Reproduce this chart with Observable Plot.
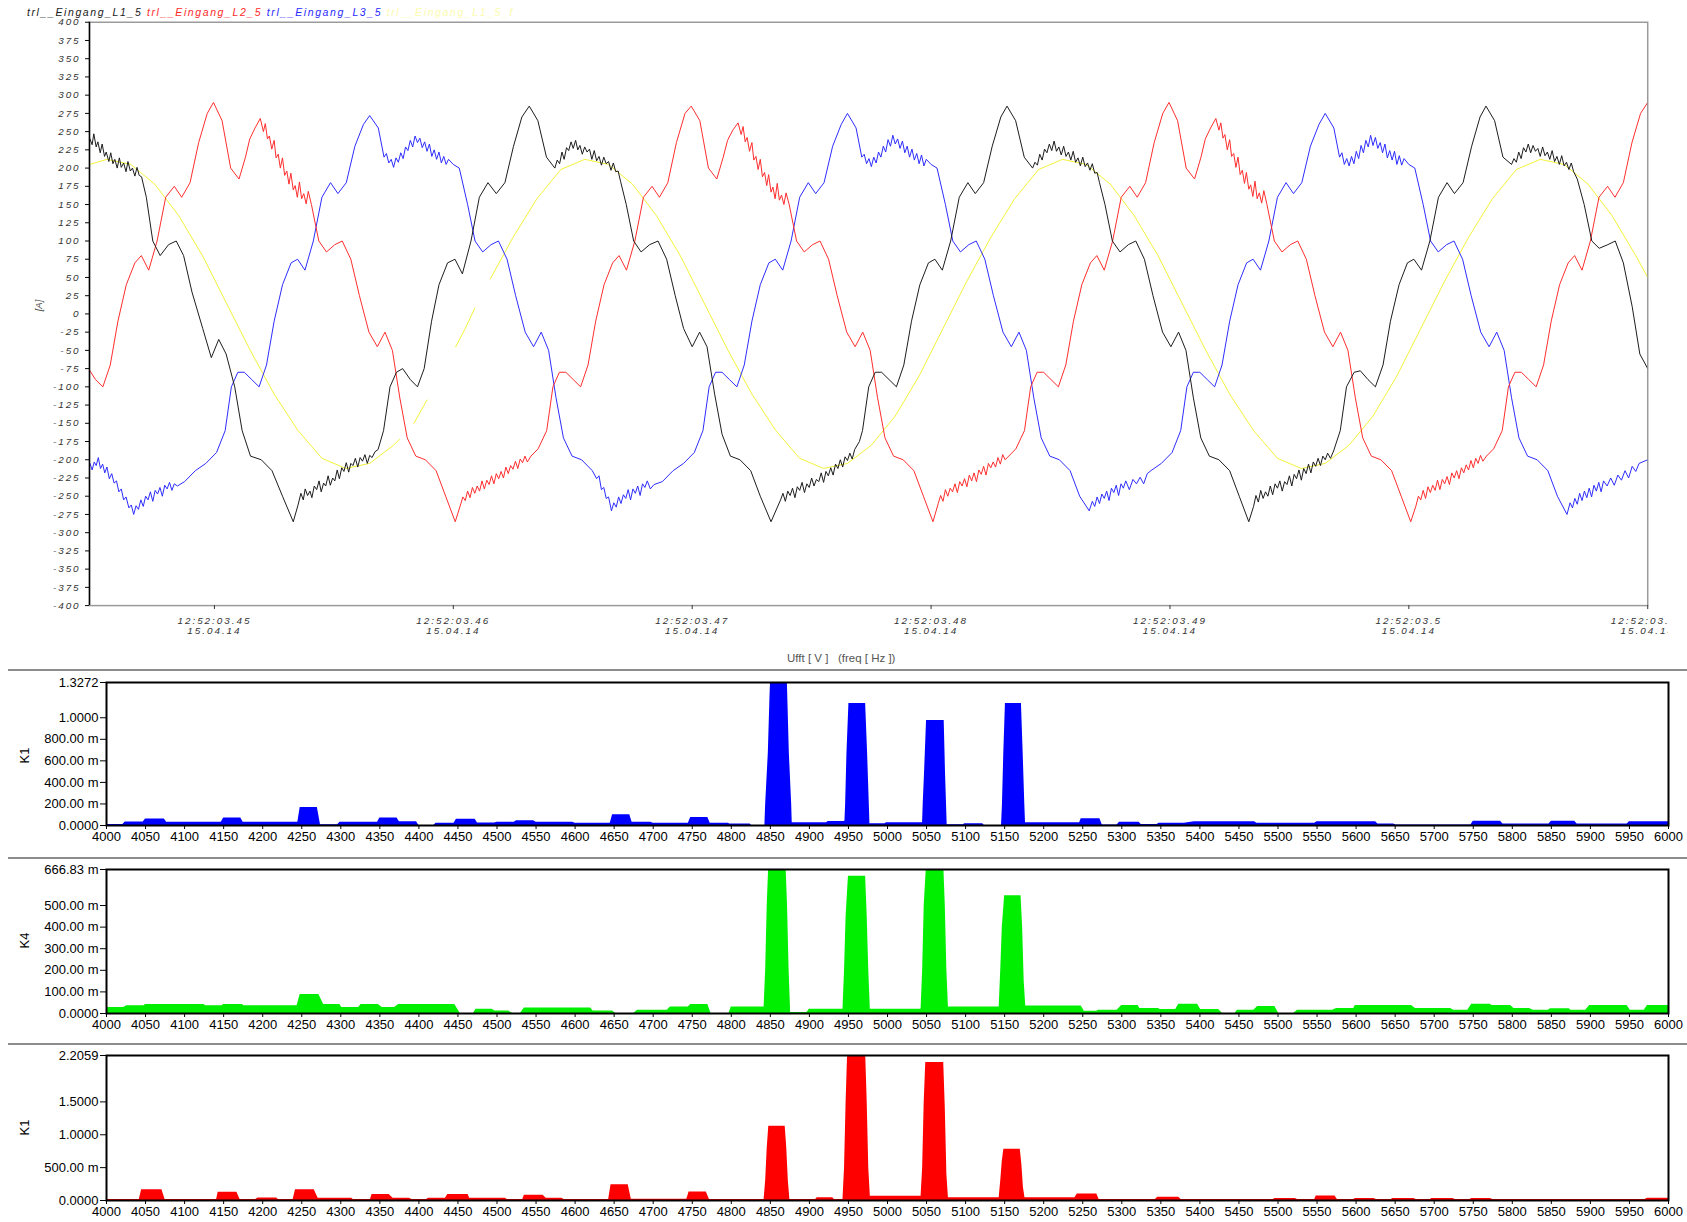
<!DOCTYPE html>
<html><head><meta charset="utf-8">
<script src="https://cdn.jsdelivr.net/npm/d3@7"></script>
<script src="https://cdn.jsdelivr.net/npm/@observablehq/plot@0.6"></script>
<style>
body{margin:0;background:#fff;width:1687px;height:1222px;overflow:hidden;position:relative;font-family:"Liberation Sans",Arial,sans-serif}
.abs{position:absolute}
.sep{position:absolute;left:8px;right:0;height:0;border-top:2px solid #8c8c8c}
.ylab{position:absolute;font:13px "Liberation Sans";transform:rotate(-90deg);transform-origin:center;width:30px;text-align:center}
</style></head><body>
<div id="legend" class="abs" style="left:27px;top:6px;font:italic 10.5px 'Liberation Sans';letter-spacing:1.6px;white-space:pre"></div>
<div id="top" class="abs" style="left:0;top:0;width:1668px;height:650px;overflow:hidden"></div>
<div class="abs" style="left:33px;top:300px;font:italic 9.5px 'Liberation Sans';color:#444;transform:rotate(-90deg)">[A]</div>
<div class="abs" style="left:787px;top:652px;font:11.5px 'Liberation Sans';color:#555;white-space:pre">Ufft [ V ]   (freq [ Hz ])</div>
<div class="sep" style="top:669px"></div>
<div class="sep" style="top:857px"></div>
<div class="sep" style="top:1043px"></div>
<div id="p1" class="abs" style="left:0;top:670px"></div>
<div id="p2" class="abs" style="left:0;top:858px"></div>
<div id="p3" class="abs" style="left:0;top:1044px"></div>
<div class="ylab" style="left:9px;top:748px">K1</div>
<div class="ylab" style="left:9px;top:933px">K4</div>
<div class="ylab" style="left:9px;top:1120px">K1</div>
<script>
// ---------- waveform data: time in ms after 12:52:03.44, current in A ----------
const seriesNames = ["trl__Eingang_L1_5", "trl__Eingang_L2_5", "trl__Eingang_L3_5", "trl__Eingang_L1_5_f"];
const seriesColors = ["#1a1a1a", "#ff2a2a", "#2a2aff", "#f0f020"];
const timeTicks = [10, 20, 30, 40, 50, 60, 70];
const dateLabel = "15.04.14";
const yTicksTop = [400,375,350,325,300,275,250,225,200,175,150,125,100,75,50,25,0,-25,-50,-75,-100,-125,-150,-175,-200,-225,-250,-275,-300,-325,-350,-375,-400];

const L1 = [[4.79,240],[4.88,232],[4.95,247],[5.05,229],[5.12,236],[5.22,221],[5.3,233],[5.4,216],[5.47,222],[5.58,209],[5.66,221],[5.75,206],[5.83,212],[5.93,200],[6.02,214],[6.1,201],[6.2,207],[6.3,195],[6.38,209],[6.48,196],[6.57,200],[6.67,189],[6.76,201],[6.85,190],[6.95,188],[7.15,160],[7.42,100],[7.73,80],[8.08,95],[8.4,100],[8.71,80],[9.06,30],[9.51,-20],[9.87,-60],[10.18,-35],[10.49,-55],[10.85,-100],[11.16,-160],[11.51,-195],[11.96,-200],[12.41,-215],[12.85,-250],[13.3,-285],[13.5,-262],[13.62,-246],[13.72,-255],[13.8,-240],[13.9,-249],[14.0,-243],[14.08,-252],[14.18,-236],[14.28,-241],[14.38,-229],[14.47,-244],[14.57,-232],[14.66,-236],[14.76,-222],[14.85,-235],[14.95,-225],[15.04,-229],[15.14,-214],[15.23,-226],[15.33,-211],[15.42,-216],[15.52,-204],[15.62,-217],[15.71,-205],[15.8,-208],[15.9,-198],[16.0,-210],[16.1,-197],[16.2,-202],[16.3,-193],[16.4,-205],[16.5,-194],[16.6,-197],[16.72,-189],[16.85,-186],[17.08,-160],[17.35,-100],[17.62,-80],[17.88,-75],[18.2,-90],[18.5,-100],[18.78,-75],[19.09,-10],[19.4,40],[19.76,70],[20.07,75],[20.38,55],[20.74,100],[21.09,160],[21.45,180],[21.8,165],[22.16,180],[22.52,230],[22.87,270],[23.18,285],[23.54,265],[23.9,215],[24.25,200],[24.35,211],[24.45,206],[24.55,222],[24.64,212],[24.74,228],[24.83,224],[24.93,236],[25.02,227],[25.12,238],[25.21,225],[25.3,231],[25.4,219],[25.5,229],[25.6,222],[25.7,226],[25.8,212],[25.9,224],[26.0,210],[26.1,216],[26.2,204],[26.3,215],[26.4,206],[26.5,209],[26.6,197],[26.7,207],[26.8,195],[26.9,196],[27.0,182],[27.24,150],[27.55,100],[27.86,85],[28.22,95],[28.57,100],[28.93,75],[29.29,25],[29.64,-20],[30.0,-45],[30.31,-25],[30.62,-45],[30.94,-110],[31.25,-165],[31.6,-195],[32.0,-200],[32.45,-215],[32.85,-250],[33.3,-285],[33.7,-255],[33.8,-246],[33.9,-257],[34.0,-243],[34.1,-249],[34.2,-239],[34.3,-252],[34.4,-237],[34.5,-242],[34.6,-231],[34.7,-245],[34.8,-233],[34.9,-238],[35.0,-225],[35.1,-236],[35.2,-227],[35.3,-230],[35.4,-218],[35.5,-231],[35.6,-216],[35.7,-222],[35.8,-211],[35.9,-221],[36.0,-206],[36.1,-212],[36.2,-200],[36.3,-210],[36.4,-196],[36.5,-201],[36.6,-191],[36.7,-199],[36.8,-186],[37.0,-175],[37.13,-160],[37.39,-100],[37.66,-80],[37.93,-80],[38.24,-90],[38.55,-100],[38.86,-70],[39.18,-10],[39.53,40],[39.89,70],[40.16,75],[40.47,60],[40.82,100],[41.18,160],[41.54,180],[41.85,165],[42.2,180],[42.56,230],[42.92,270],[43.18,285],[43.54,265],[43.9,215],[44.25,200],[44.35,208],[44.45,204],[44.55,219],[44.65,211],[44.75,226],[44.85,221],[44.95,233],[45.05,224],[45.15,237],[45.25,223],[45.35,229],[45.45,218],[45.55,230],[45.65,216],[45.75,222],[45.85,211],[45.95,223],[46.05,208],[46.15,214],[46.25,203],[46.35,215],[46.45,202],[46.55,207],[46.65,197],[46.75,206],[46.85,193],[46.95,194],[47.05,180],[47.28,150],[47.59,100],[47.91,85],[48.26,95],[48.57,100],[48.93,75],[49.29,25],[49.69,-25],[50.04,-45],[50.36,-25],[50.67,-50],[50.98,-115],[51.29,-170],[51.65,-195],[52.05,-200],[52.5,-215],[52.9,-250],[53.3,-285],[53.5,-264],[53.6,-249],[53.7,-258],[53.8,-242],[53.9,-253],[54.0,-244],[54.1,-250],[54.2,-236],[54.3,-248],[54.4,-233],[54.5,-239],[54.6,-229],[54.7,-243],[54.8,-230],[54.9,-234],[55.0,-222],[55.1,-236],[55.2,-220],[55.3,-226],[55.4,-214],[55.5,-228],[55.6,-212],[55.7,-219],[55.8,-206],[55.9,-218],[56.0,-203],[56.1,-209],[56.2,-198],[56.3,-208],[56.4,-195],[56.5,-200],[56.6,-191],[56.72,-198],[56.85,-188],[57.13,-160],[57.39,-100],[57.71,-80],[57.97,-78],[58.29,-90],[58.6,-100],[58.92,-70],[59.23,-10],[59.59,40],[59.94,70],[60.21,75],[60.53,60],[60.88,100],[61.24,160],[61.6,180],[61.91,165],[62.27,180],[62.63,230],[62.98,270],[63.23,285],[63.59,265],[63.94,215],[64.3,205],[64.4,213],[64.5,208],[64.6,222],[64.7,213],[64.8,228],[64.9,222],[65.0,233],[65.1,221],[65.2,231],[65.3,223],[65.4,227],[65.5,216],[65.6,229],[65.7,217],[65.8,222],[65.9,212],[66.0,224],[66.1,209],[66.2,216],[66.3,205],[66.4,217],[66.5,203],[66.6,208],[66.7,198],[66.8,207],[66.9,195],[67.05,185],[67.34,150],[67.66,100],[67.97,90],[68.33,95],[68.64,100],[68.98,70],[69.35,10],[69.67,-55],[70.0,-75]];

const L2 = [[4.79,-78],[5.02,-90],[5.33,-100],[5.64,-70],[5.96,-10],[6.31,40],[6.67,70],[6.94,80],[7.25,60],[7.6,100],[7.96,160],[8.32,175],[8.63,160],[8.98,180],[9.34,235],[9.7,275],[9.96,290],[10.32,265],[10.68,200],[11.03,185],[11.3,215],[11.48,240],[11.7,255],[11.92,268],[12.05,250],[12.13,261],[12.22,240],[12.3,244],[12.4,226],[12.5,238],[12.58,214],[12.67,219],[12.76,200],[12.85,214],[12.94,190],[13.03,196],[13.12,178],[13.2,193],[13.3,170],[13.38,176],[13.47,160],[13.56,181],[13.65,158],[13.74,165],[13.84,151],[13.93,168],[14.06,150],[14.37,100],[14.69,85],[15.04,95],[15.35,100],[15.71,75],[16.07,25],[16.47,-25],[16.82,-45],[17.14,-25],[17.45,-50],[17.76,-115],[18.07,-170],[18.43,-195],[18.83,-200],[19.28,-215],[19.68,-250],[20.08,-285],[20.3,-262],[20.4,-251],[20.5,-256],[20.6,-243],[20.7,-252],[20.8,-238],[20.9,-246],[21.0,-236],[21.1,-243],[21.2,-229],[21.3,-240],[21.4,-228],[21.5,-234],[21.6,-222],[21.7,-233],[21.8,-219],[21.9,-226],[22.0,-216],[22.1,-225],[22.2,-210],[22.3,-219],[22.4,-208],[22.5,-213],[22.6,-202],[22.7,-212],[22.8,-199],[22.9,-204],[23.0,-195],[23.1,-203],[23.25,-195],[23.55,-185],[23.91,-160],[24.17,-100],[24.44,-80],[24.71,-80],[25.02,-90],[25.33,-100],[25.64,-70],[25.96,-10],[26.31,40],[26.67,70],[26.94,80],[27.25,60],[27.6,100],[27.96,160],[28.32,175],[28.63,160],[28.98,180],[29.34,235],[29.7,275],[29.96,285],[30.32,265],[30.68,200],[31.03,185],[31.3,215],[31.48,238],[31.7,252],[31.92,262],[32.05,246],[32.13,257],[32.22,236],[32.3,242],[32.4,223],[32.5,235],[32.58,211],[32.67,216],[32.76,198],[32.85,212],[32.94,188],[33.03,194],[33.12,176],[33.2,191],[33.3,167],[33.38,174],[33.47,158],[33.56,179],[33.65,156],[33.74,163],[33.84,150],[33.93,166],[34.06,150],[34.37,100],[34.69,85],[35.04,95],[35.35,100],[35.71,75],[36.07,25],[36.47,-25],[36.82,-45],[37.14,-25],[37.45,-50],[37.76,-115],[38.07,-170],[38.43,-195],[38.83,-200],[39.28,-215],[39.68,-250],[40.08,-285],[40.3,-260],[40.4,-249],[40.5,-257],[40.6,-241],[40.7,-250],[40.8,-239],[40.9,-244],[41.0,-233],[41.1,-245],[41.2,-230],[41.3,-236],[41.4,-226],[41.5,-237],[41.6,-221],[41.7,-229],[41.8,-218],[41.9,-230],[42.0,-214],[42.1,-220],[42.2,-209],[42.3,-221],[42.4,-205],[42.5,-211],[42.6,-203],[42.7,-210],[42.8,-197],[42.9,-206],[43.0,-193],[43.1,-200],[43.25,-195],[43.55,-185],[43.91,-160],[44.17,-100],[44.44,-80],[44.71,-80],[45.02,-90],[45.33,-100],[45.64,-70],[45.96,-10],[46.31,40],[46.67,70],[46.94,80],[47.25,60],[47.6,100],[47.96,160],[48.32,175],[48.63,160],[48.98,180],[49.34,235],[49.7,275],[49.96,290],[50.32,265],[50.68,200],[51.03,185],[51.3,215],[51.48,240],[51.7,255],[51.92,268],[52.05,252],[52.13,262],[52.22,241],[52.3,246],[52.4,225],[52.5,239],[52.58,216],[52.67,220],[52.76,201],[52.85,215],[52.94,191],[53.03,197],[53.12,179],[53.2,194],[53.3,171],[53.38,177],[53.47,161],[53.56,182],[53.65,158],[53.74,166],[53.84,152],[53.93,169],[54.06,150],[54.37,100],[54.69,85],[55.04,95],[55.35,100],[55.71,75],[56.07,25],[56.47,-25],[56.82,-45],[57.14,-25],[57.45,-50],[57.76,-115],[58.07,-170],[58.43,-195],[58.83,-200],[59.28,-215],[59.68,-250],[60.08,-285],[60.3,-263],[60.4,-250],[60.5,-255],[60.6,-242],[60.7,-253],[60.8,-237],[60.9,-245],[61.0,-235],[61.1,-242],[61.2,-228],[61.3,-241],[61.4,-227],[61.5,-233],[61.6,-223],[61.7,-234],[61.8,-218],[61.9,-225],[62.0,-215],[62.1,-226],[62.2,-211],[62.3,-218],[62.4,-207],[62.5,-214],[62.6,-201],[62.7,-211],[62.8,-198],[62.9,-205],[63.0,-194],[63.1,-202],[63.25,-195],[63.55,-185],[63.91,-160],[64.17,-100],[64.44,-80],[64.71,-80],[65.02,-90],[65.33,-100],[65.64,-70],[65.96,-10],[66.31,40],[66.67,70],[66.94,80],[67.25,60],[67.6,100],[67.96,160],[68.32,175],[68.63,160],[68.98,180],[69.34,235],[69.7,275],[70.0,290]];

const L3 = [[4.79,-205],[4.88,-214],[4.97,-203],[5.05,-208],[5.14,-197],[5.23,-212],[5.32,-206],[5.41,-218],[5.5,-210],[5.6,-226],[5.7,-219],[5.8,-232],[5.9,-229],[6.0,-244],[6.1,-240],[6.2,-255],[6.3,-251],[6.42,-266],[6.52,-262],[6.62,-275],[6.72,-263],[6.82,-268],[6.92,-255],[7.02,-264],[7.12,-250],[7.22,-255],[7.32,-244],[7.42,-257],[7.52,-242],[7.62,-247],[7.72,-238],[7.82,-250],[7.92,-235],[8.02,-240],[8.12,-231],[8.22,-242],[8.32,-233],[8.45,-236],[8.75,-230],[9.2,-215],[9.64,-205],[10.09,-190],[10.45,-160],[10.71,-100],[10.98,-80],[11.25,-80],[11.56,-90],[11.87,-100],[12.18,-70],[12.5,-10],[12.85,40],[13.21,70],[13.48,75],[13.79,60],[14.14,100],[14.5,160],[14.86,180],[15.17,165],[15.52,180],[15.88,230],[16.24,260],[16.5,272],[16.86,255],[17.1,215],[17.2,220],[17.3,207],[17.4,212],[17.5,201],[17.6,214],[17.7,208],[17.8,221],[17.9,213],[18.0,229],[18.1,224],[18.2,238],[18.3,229],[18.4,244],[18.5,235],[18.6,241],[18.7,228],[18.8,236],[18.9,223],[19.0,233],[19.1,216],[19.2,225],[19.3,212],[19.4,222],[19.5,207],[19.6,216],[19.7,205],[19.8,212],[20.0,205],[20.25,200],[20.6,150],[20.91,100],[21.23,85],[21.58,95],[21.89,100],[22.25,75],[22.61,25],[23.01,-25],[23.36,-45],[23.68,-25],[23.99,-50],[24.3,-115],[24.61,-170],[24.97,-195],[25.37,-200],[25.82,-215],[26.0,-226],[26.1,-222],[26.2,-241],[26.3,-238],[26.4,-253],[26.5,-251],[26.62,-270],[26.72,-259],[26.82,-265],[26.92,-251],[27.02,-260],[27.12,-248],[27.22,-253],[27.32,-241],[27.42,-255],[27.52,-240],[27.62,-246],[27.72,-236],[27.82,-249],[27.92,-233],[28.02,-238],[28.12,-229],[28.25,-240],[28.4,-234],[28.75,-230],[29.2,-215],[29.64,-205],[30.09,-190],[30.45,-160],[30.71,-100],[30.98,-80],[31.25,-80],[31.56,-90],[31.87,-100],[32.18,-70],[32.5,-10],[32.85,40],[33.21,70],[33.48,75],[33.79,60],[34.14,100],[34.5,160],[34.86,180],[35.17,165],[35.52,180],[35.88,230],[36.24,260],[36.5,275],[36.86,255],[37.1,215],[37.2,219],[37.3,206],[37.4,213],[37.5,202],[37.6,215],[37.7,207],[37.8,222],[37.9,215],[38.0,230],[38.1,222],[38.2,239],[38.3,230],[38.4,245],[38.5,233],[38.6,240],[38.7,227],[38.8,237],[38.9,221],[39.0,230],[39.1,215],[39.2,226],[39.3,211],[39.4,220],[39.5,206],[39.6,218],[39.7,203],[39.8,212],[40.0,205],[40.25,200],[40.6,150],[40.91,100],[41.23,85],[41.58,95],[41.89,100],[42.25,75],[42.61,25],[43.01,-25],[43.36,-45],[43.68,-25],[43.99,-50],[44.3,-115],[44.61,-170],[44.97,-195],[45.37,-200],[45.82,-215],[46.22,-250],[46.62,-270],[46.75,-257],[46.85,-264],[46.95,-251],[47.05,-260],[47.15,-247],[47.25,-253],[47.35,-243],[47.45,-256],[47.55,-239],[47.65,-245],[47.75,-235],[47.85,-249],[47.95,-233],[48.05,-239],[48.15,-229],[48.3,-241],[48.45,-227],[48.6,-233],[48.75,-224],[48.9,-233],[49.05,-219],[49.2,-215],[49.64,-205],[50.09,-190],[50.45,-160],[50.71,-100],[50.98,-80],[51.25,-80],[51.56,-90],[51.87,-100],[52.18,-70],[52.5,-10],[52.85,40],[53.21,70],[53.48,75],[53.79,60],[54.14,100],[54.5,160],[54.86,180],[55.17,165],[55.52,180],[55.88,230],[56.24,260],[56.5,275],[56.86,255],[57.1,215],[57.2,221],[57.3,205],[57.4,213],[57.5,203],[57.6,216],[57.7,206],[57.8,223],[57.9,213],[58.0,231],[58.1,221],[58.2,238],[58.3,229],[58.4,245],[58.5,231],[58.6,242],[58.7,227],[58.8,235],[58.9,221],[59.0,233],[59.1,214],[59.2,224],[59.3,211],[59.4,223],[59.5,205],[59.6,217],[59.7,204],[59.8,213],[60.0,205],[60.25,200],[60.6,150],[60.91,100],[61.23,85],[61.58,95],[61.89,100],[62.25,75],[62.61,25],[63.01,-25],[63.36,-45],[63.68,-25],[63.99,-50],[64.3,-115],[64.61,-170],[64.97,-195],[65.37,-200],[65.82,-215],[66.22,-250],[66.62,-275],[66.75,-259],[66.85,-266],[66.95,-253],[67.05,-261],[67.15,-246],[67.25,-256],[67.35,-243],[67.45,-252],[67.55,-239],[67.65,-251],[67.75,-235],[67.85,-243],[67.95,-231],[68.05,-244],[68.15,-229],[68.3,-236],[68.45,-225],[68.6,-235],[68.75,-221],[68.9,-228],[69.05,-215],[69.2,-225],[69.35,-209],[69.5,-216],[69.64,-205],[70.0,-200]];

// fundamental (yellow): null marks a gap in the trace
const L1f = [[4.77,205],[5.5,212],[6.5,205],[7.5,178],[8.5,135],[9.5,80],[10.5,15],[11.5,-50],[12.5,-110],[13.5,-160],[14.5,-198],[15.5,-212],[16.5,-205],[17.5,-180],[17.75,-172],[17.8,null],[18.35,-150],[18.9,-118],[18.95,null],[20.1,-45],[20.5,-20],[20.9,8],[20.95,null],[21.55,48],[22.5,105],[23.5,158],[24.5,198],[25.5,212],[26.5,205],[27.5,178],[28.5,135],[29.5,80],[30.5,15],[31.5,-50],[32.5,-110],[33.5,-160],[34.5,-198],[35.5,-212],[36.5,-205],[37.5,-180],[38.5,-140],[39.5,-85],[40.5,-20],[41.5,45],[42.5,105],[43.5,158],[44.5,198],[45.5,212],[46.5,205],[47.5,178],[48.5,135],[49.5,80],[50.5,15],[51.5,-50],[52.5,-110],[53.5,-160],[54.5,-198],[55.5,-212],[56.5,-205],[57.5,-180],[58.5,-140],[59.5,-85],[60.5,-20],[61.5,45],[62.5,105],[63.5,158],[64.5,198],[65.5,212],[66.5,205],[67.5,178],[68.5,135],[69.5,80],[70,50]];

// ---------- spectrum data: frequency in Hz, amplitude in V ----------
const freqTicks = [4000,4050,4100,4150,4200,4250,4300,4350,4400,4450,4500,4550,4600,4650,4700,4750,4800,4850,4900,4950,5000,5050,5100,5150,5200,5250,5300,5350,5400,5450,5500,5550,5600,5650,5700,5750,5800,5850,5900,5950,6000];
const k1Ticks = [0, 0.2, 0.4, 0.6, 0.8, 1.0, 1.3272];
const k4Ticks = [0, 0.1, 0.2, 0.3, 0.4, 0.5, 0.66683];
const k1bTicks = [0, 0.5, 1.0, 1.5, 2.2059];

const specBlue = [[4000,0.010],[4021,0.010],[4024,0.033],[4047,0.033],[4050,0.060],[4074,0.060],[4077,0.030],[4147,0.030],[4150,0.070],[4172,0.070],[4175,0.030],[4245,0.030],[4248,0.167],[4270,0.167],[4274,0.007],[4296,0.007],[4299,0.030],[4347,0.030],[4350,0.070],[4372,0.070],[4375,0.035],[4397,0.035],[4400,0.0],[4419,0.0],[4422,0.020],[4445,0.020],[4448,0.057],[4472,0.057],[4475,0.023],[4497,0.023],[4500,0.030],[4522,0.030],[4525,0.045],[4547,0.045],[4550,0.030],[4597,0.030],[4600,0.020],[4645,0.020],[4648,0.100],[4670,0.100],[4673,0.030],[4697,0.030],[4700,0.020],[4745,0.020],[4748,0.075],[4770,0.075],[4773,0.022],[4796,0.022],[4798,0.013],[4824,0.013],[4826,0.0],[4843,0.0],[4844,0.197],[4847.4,0.673],[4849.6,1.21],[4850.4,1.356],[4871.7,1.356],[4874.3,0.673],[4877.3,0.197],[4878,0.025],[4922,0.025],[4924,0.038],[4944,0.038],[4945.5,0.04],[4946.4,0.197],[4948.1,0.673],[4950.6,1.133],[4972,1.133],[4974.5,0.673],[4976.7,0.197],[4977.5,0.016],[4996.7,0.016],[4998.8,0.025],[5044.9,0.025],[5045.7,0.197],[5047.4,0.483],[5050,0.975],[5072.6,0.975],[5074.3,0.483],[5076.4,0.006],[5097,0.006],[5099,0.016],[5122,0.016],[5124,0.0],[5146,0.0],[5147.2,0.197],[5148.9,0.673],[5151,1.133],[5171.5,1.133],[5173.7,0.673],[5175.8,0.197],[5176.7,0.025],[5246,0.025],[5248,0.063],[5272,0.063],[5275,0.005],[5294,0.005],[5297,0.030],[5322,0.030],[5325,0.010],[5345,0.010],[5348,0.020],[5380,0.020],[5393,0.035],[5470,0.035],[5473,0.020],[5547,0.020],[5550,0.035],[5625,0.035],[5628,0.015],[5648,0.015],[5651,0.005],[5747,0.005],[5750,0.040],[5785,0.040],[5788,0.015],[5847,0.015],[5850,0.040],[5880,0.040],[5883,0.015],[5947,0.015],[5950,0.035],[6000,0.035]];

const specGreen = [[4000,0.028],[4022,0.028],[4026,0.036],[4048,0.036],[4050,0.042],[4125,0.042],[4127,0.036],[4148,0.036],[4150,0.042],[4174,0.042],[4176,0.036],[4244,0.036],[4248,0.088],[4272,0.088],[4278,0.042],[4299,0.042],[4301,0.028],[4323,0.028],[4326,0.042],[4348,0.042],[4353,0.028],[4369,0.028],[4374,0.042],[4446,0.042],[4453,0.0],[4470,0.0],[4473,0.020],[4494,0.020],[4497,0.012],[4515,0.012],[4520,0.0],[4530,0.0],[4535,0.025],[4620,0.025],[4623,0.012],[4648,0.012],[4652,0.0],[4675,0.0],[4680,0.015],[4718,0.015],[4722,0.030],[4745,0.030],[4748,0.042],[4770,0.042],[4774,0.0],[4797,0.0],[4800,0.030],[4842,0.030],[4844,0.2],[4846,0.5],[4848,0.69],[4870,0.69],[4872,0.5],[4874,0.2],[4876,0.005],[4897,0.005],[4900,0.020],[4943,0.020],[4945,0.2],[4947,0.45],[4950,0.636],[4972,0.636],[4974,0.45],[4976,0.2],[4978,0.020],[5043,0.020],[5045,0.2],[5047,0.5],[5050,0.69],[5072,0.69],[5074,0.5],[5076,0.2],[5078,0.030],[5143,0.030],[5145,0.2],[5147,0.4],[5150,0.545],[5171,0.545],[5173,0.4],[5175,0.15],[5177,0.035],[5248,0.035],[5252,0.010],[5268,0.010],[5270,0.015],[5294,0.015],[5300,0.037],[5321,0.037],[5323,0.023],[5347,0.023],[5349,0.018],[5369,0.018],[5373,0.043],[5397,0.043],[5401,0.018],[5424,0.018],[5429,0.0],[5445,0.0],[5448,0.015],[5469,0.015],[5474,0.032],[5496,0.032],[5501,0.0],[5520,0.0],[5525,0.015],[5570,0.015],[5575,0.023],[5597,0.023],[5599,0.037],[5671,0.037],[5676,0.023],[5721,0.023],[5725,0.015],[5743,0.015],[5748,0.043],[5772,0.043],[5774,0.037],[5798,0.037],[5802,0.023],[5822,0.023],[5827,0.015],[5846,0.015],[5849,0.022],[5873,0.022],[5875,0.015],[5894,0.015],[5899,0.037],[5947,0.037],[5951,0.015],[5969,0.015],[5973,0.037],[6000,0.037]];

const specRed = [[4000,0.016],[4042,0.016],[4045,0.163],[4071,0.163],[4075,0.016],[4141,0.016],[4143,0.125],[4167,0.125],[4171,0.016],[4191,0.016],[4194,0.038],[4218,0.038],[4220,0.016],[4239,0.016],[4242,0.163],[4266,0.163],[4271,0.033],[4314,0.033],[4316,0.016],[4338,0.016],[4340,0.090],[4362,0.090],[4367,0.033],[4388,0.033],[4391,0.016],[4410,0.016],[4412,0.033],[4434,0.033],[4437,0.090],[4463,0.090],[4465,0.033],[4511,0.033],[4513,0.016],[4533,0.016],[4535,0.080],[4559,0.080],[4563,0.033],[4583,0.033],[4586,0.016],[4643,0.016],[4646,0.240],[4668,0.240],[4672,0.020],[4743,0.020],[4746,0.130],[4768,0.130],[4772,0.016],[4842,0.016],[4844,0.3],[4846,0.8],[4848,1.13],[4869,1.13],[4871,0.8],[4873,0.3],[4875,0.016],[4908,0.016],[4910,0.040],[4930,0.040],[4932,0.016],[4943,0.016],[4945,0.5],[4947,1.5],[4949,2.25],[4972,2.25],[4974,1.5],[4976,0.5],[4978,0.065],[5043,0.065],[5045,0.5],[5047,1.5],[5049,2.1],[5072,2.1],[5074,1.4],[5076,0.4],[5078,0.040],[5143,0.040],[5145,0.3],[5147,0.6],[5149,0.78],[5170,0.78],[5172,0.55],[5174,0.2],[5176,0.040],[5240,0.040],[5243,0.100],[5268,0.100],[5271,0.016],[5343,0.016],[5346,0.050],[5373,0.050],[5376,0.016],[5494,0.016],[5496,0.030],[5522,0.030],[5525,0.016],[5547,0.016],[5549,0.070],[5573,0.070],[5576,0.016],[5597,0.016],[5599,0.030],[5623,0.030],[5626,0.016],[5645,0.016],[5647,0.030],[5674,0.030],[5677,0.016],[5695,0.016],[5697,0.030],[5724,0.030],[5727,0.016],[5746,0.016],[5748,0.030],[5772,0.030],[5775,0.016],[5970,0.016],[5973,0.035],[6000,0.035]];

// ---------- legend ----------
const leg = document.getElementById("legend");
seriesNames.forEach((n, i) => {
  const s = document.createElement("span");
  s.textContent = n + " ";
  s.style.color = i === 3 ? "#fbfbb0" : seriesColors[i];
  leg.appendChild(s);
});

// ---------- top waveform chart ----------
const fmtTime = ms => "12:52:0" + String(+((3440 + ms) / 1000).toFixed(2)) + "\n" + dateLabel;
const wave = [L1f, L3, L2, L1];
const waveColor = [seriesColors[3], seriesColors[2], seriesColors[1], seriesColors[0]];
const topChart = Plot.plot({
  width: 1687, height: 650,
  marginLeft: 90, marginRight: 21, marginTop: 22, marginBottom: 38,
  x: {domain: [4.77, 70]},
  y: {domain: [-400, 400]},
  style: {fontFamily: "Liberation Sans, Arial, sans-serif", fontSize: "10px", fontStyle: "italic", color: "#333", background: "transparent"},
  marks: [
    Plot.frame({stroke: "#9a9a9a", strokeWidth: 1.5}),
    ...wave.map((d, i) => Plot.line(d, {x: d => d[0], y: d => d[1], stroke: waveColor[i], strokeWidth: i === 0 ? 0.9 : 1, clip: true})),
    Plot.axisY({ticks: yTicksTop, tickFormat: d => String(d), tickSize: 4, tickPadding: 5, label: null, stroke: "#000"}),
    Plot.axisX({ticks: timeTicks, tickFormat: fmtTime, tickSize: 4, tickPadding: 7, label: null, lineHeight: 1.05}),
    Plot.ruleX([4.77], {stroke: "#000", strokeWidth: 1.5})
  ]
});
topChart.querySelectorAll("text").forEach(t => t.setAttribute("letter-spacing", "2"));
document.getElementById("top").appendChild(topChart);

// ---------- spectrum panels ----------
const fmtSI = v => v === 0 ? "0.0000" : v >= 1 ? v.toFixed(4) : (v * 1000).toFixed(2) + " m";
function panel(data, color, yTicks, height, mt, mb) {
  return Plot.plot({
    width: 1687, height,
    marginLeft: 106, marginRight: 19, marginTop: mt, marginBottom: mb,
    x: {domain: [4000, 6000]},
    y: {domain: [0, yTicks[yTicks.length - 1]]},
    style: {fontFamily: "Liberation Sans, Arial, sans-serif", fontSize: "13px", color: "#000", background: "transparent"},
    marks: [
      Plot.areaY(data, {x: d => d[0], y: d => d[1], fill: color, curve: "linear", clip: true}),
      Plot.frame({stroke: "#000", strokeWidth: 2}),
      Plot.axisX({ticks: freqTicks, tickFormat: d => String(d), tickSize: 4, tickPadding: 2, label: null}),
      Plot.axisY({ticks: yTicks, tickFormat: fmtSI, tickSize: 6, tickPadding: 2, label: null})
    ]
  });
}
document.getElementById("p1").appendChild(panel(specBlue, "#0000ff", k1Ticks, 188, 12, 33));
document.getElementById("p2").appendChild(panel(specGreen, "#00ee00", k4Ticks, 186, 11, 31));
document.getElementById("p3").appendChild(panel(specRed, "#ff0000", k1bTicks, 178, 11, 22));
</script>
</body></html>
